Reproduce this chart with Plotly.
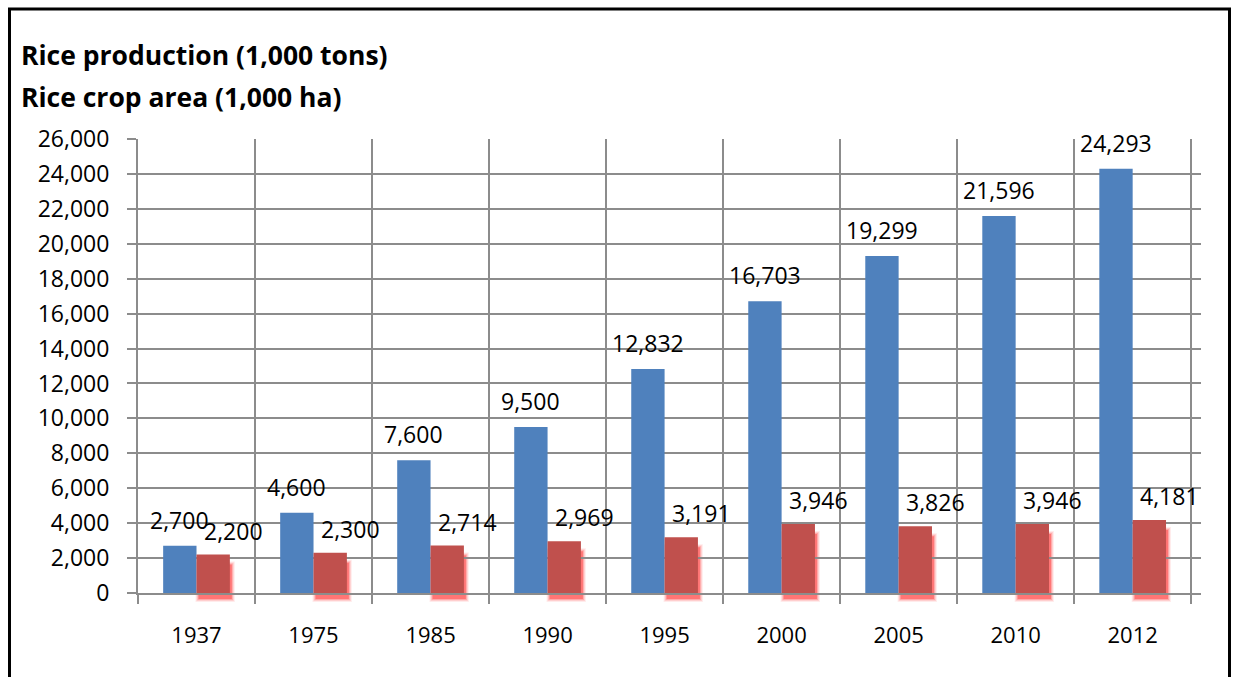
import plotly.graph_objects as go

# Rice output and harvested area by year
years = ["1937", "1975", "1985", "1990", "1995", "2000", "2005", "2010", "2012"]
production = [2700, 4600, 7600, 9500, 12832, 16703, 19299, 21596, 24293]  # 1,000 tons
crop_area = [2200, 2300, 2714, 2969, 3191, 3946, 3826, 3946, 4181]        # 1,000 ha
y_ticks = list(range(0, 26001, 2000))

BLUE = "#4F81BD"
RED = "#C0504D"
GRID = "#8C8C8C"
FONT = "Open Sans"
Y_MAX = 26000

W, H = 1235, 677
ML, MR, MT, MB = 138, 34, 139, 84
PW, PH = W - ML - MR, H - MT - MB
CW = PW / len(years)          # px per category

bargap = 0.43
bar_w = (1 - bargap) / 2      # width of one bar in category units
half_bar = CW * bar_w / 2     # px from category centre to each bar centre

fig = go.Figure()
fig.add_trace(go.Bar(x=years, y=production, name="Rice production",
                     marker=dict(color=BLUE, line=dict(width=0))))
fig.add_trace(go.Bar(x=years, y=crop_area, name="Rice crop area",
                     marker=dict(color=RED, line=dict(width=0))))

annotations = []
# category positions are given by index so numeric-looking labels are not misread
for i, v in enumerate(production):
    annotations.append(dict(x=i, y=v, xref="x", yref="y", text=f"{v:,}",
                            showarrow=False, xanchor="center", yanchor="middle",
                            xshift=-half_bar, yshift=26,
                            font=dict(family=FONT, size=23, color="#000")))
for i, v in enumerate(crop_area):
    annotations.append(dict(x=i, y=v, xref="x", yref="y", text=f"{v:,}",
                            showarrow=False, xanchor="center", yanchor="middle",
                            xshift=half_bar + 20, yshift=24,
                            font=dict(family=FONT, size=23, color="#000")))

# two-line bold heading in the top-left corner
for txt, ypx in [("Rice production (1,000 tons)", 55), ("Rice crop area (1,000 ha)", 97)]:
    annotations.append(dict(x=(19 - ML) / PW, y=(H - MB - ypx) / PH, xref="paper", yref="paper",
                            text=f"<b>{txt}</b>", showarrow=False,
                            xanchor="left", yanchor="middle",
                            font=dict(family=FONT, size=26.5, color="#000")))

shapes = [dict(type="rect", xref="paper", yref="paper",
               x0=(9.5 - ML) / PW, x1=(1229.5 - ML) / PW,
               y0=(H - MB - 720) / PH, y1=(H - MB - 9) / PH,
               line=dict(color="black", width=3), fillcolor="rgba(0,0,0,0)",
               layer="above")]

# soft red drop shadow behind each crop-area bar (right and below)
dx, dy = 2, 6
for i, v in enumerate(crop_area):
    for k, alpha in [(3, 0.08), (2, 0.12), (1, 0.18), (0, 0.3)]:
        shapes.append(dict(type="rect", xref="x", yref="paper", layer="below",
                           x0=i + (dx - k) / CW, x1=i + bar_w + (dx + k) / CW,
                           y0=-(dy + k) / PH, y1=v / Y_MAX - (dy + 4 - k) / PH,
                           line=dict(width=0), fillcolor=f"rgba(255,0,0,{alpha})"))

fig.update_layout(
    width=W, height=H,
    margin=dict(l=ML, r=MR, t=MT, b=MB, pad=0),
    paper_bgcolor="white", plot_bgcolor="rgba(0,0,0,0)",
    barmode="group", bargap=bargap, bargroupgap=0,
    showlegend=False,
    annotations=annotations,
    shapes=shapes,
)
fig.update_xaxes(
    type="category", tickson="boundaries",
    showgrid=True, gridcolor=GRID, gridwidth=2,
    showline=True, linecolor=GRID, linewidth=2,
    ticks="outside", ticklen=9, tickcolor=GRID, tickwidth=2,
    ticklabelstandoff=22,
    tickfont=dict(family=FONT, size=22, color="#000"),
)
fig.update_yaxes(
    range=[0, Y_MAX], tickvals=y_ticks, ticktext=[f"{t:,}" for t in y_ticks],
    showgrid=True, gridcolor=GRID, gridwidth=2,
    showline=True, linecolor=GRID, linewidth=2,
    ticks="outside", ticklen=9, tickcolor=GRID, tickwidth=2,
    ticklabelstandoff=13, zeroline=False,
    tickfont=dict(family=FONT, size=23, color="#000"),
)

fig.write_html("out.html")
